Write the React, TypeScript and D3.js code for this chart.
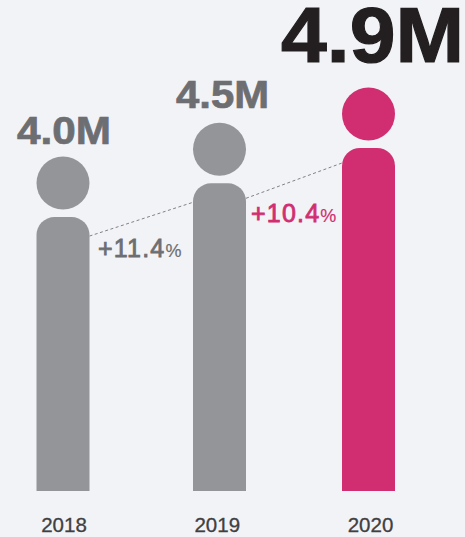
import React, { useEffect, useRef } from "react";
import * as d3 from "d3";

const years = ["2018", "2019", "2020"];
const values = [4.0, 4.44, 4.9];
const valueLabels = ["4.0M", "4.5M", "4.9M"];
const growthLabels = ["+11.4", "+10.4"];

const width = 465;
const height = 537;
const FONT = "'Liberation Sans', Arial, sans-serif";

const App: React.FC = () => {
  const svgRef = useRef<SVGSVGElement | null>(null);

  useEffect(() => {
    if (!svgRef.current) return;
    const svg = d3.select(svgRef.current);
    svg.selectAll("*").remove();

    svg.append("rect").attr("width", width).attr("height", height).attr("fill", "#f2f3f6");

    // the source spacing is a bit uneven so a band scale does not fit
    const x = d3.scaleOrdinal<string, number>().domain(years).range([63, 219.5, 368.5]);
    const xLabel = d3.scalePoint<string>().domain(years).range([64, 370.5]);
    const y = d3.scaleLinear().domain([0.43, 4.9]).range([491, 148]);

    const barW = 53;
    const r = 18;
    const color = (i: number) => (i === 2 ? "#d12e72" : "#939598");

    // dotted connectors, one per step between bars
    const connector = d3.line<[number, number]>();
    const drops = [19, 15];
    drops.forEach((drop, i) => {
      const a = years[i];
      const b = years[i + 1];
      svg
        .append("path")
        .attr(
          "d",
          connector([
            [x(a) + barW / 2, y(values[i]) + drop],
            [x(b) - barW / 2, y(values[i + 1]) + drop],
          ]) || ""
        )
        .attr("fill", "none")
        .attr("stroke", "#808285")
        .attr("stroke-width", 1)
        .attr("stroke-dasharray", "3 2.5");
    });

    years.forEach((year, i) => {
      const cx = x(year);
      const top = y(values[i]);
      const p = d3.path();
      p.moveTo(cx - barW / 2, y.range()[0]);
      p.lineTo(cx - barW / 2, top + r);
      p.arcTo(cx - barW / 2, top, cx - barW / 2 + r, top, r);
      p.lineTo(cx + barW / 2 - r, top);
      p.arcTo(cx + barW / 2, top, cx + barW / 2, top + r, r);
      p.lineTo(cx + barW / 2, y.range()[0]);
      p.closePath();
      svg.append("path").attr("d", p.toString()).attr("fill", color(i));

      svg
        .append("circle")
        .attr("cx", cx)
        .attr("cy", top - 34)
        .attr("r", barW / 2)
        .attr("fill", color(i));

      svg
        .append("text")
        .attr("x", xLabel(year) as number)
        .attr("y", 532)
        .attr("text-anchor", "middle")
        .attr("font-family", FONT)
        .attr("font-size", 20.5)
        .attr("fill", "#404041")
        .attr("stroke", "#404041")
        .attr("stroke-width", 0.3)
        .text(year);
    });

    // big value labels
    const labelPos = [
      { x: 17, y: 144, size: 38, len: 94, fill: "#6d6e71" },
      { x: 176, y: 108, size: 38, len: 93, fill: "#6d6e71" },
      { x: 281, y: 62, size: 77, len: 183, fill: "#231f20" },
    ];
    valueLabels.forEach((label, i) => {
      const l = labelPos[i];
      svg
        .append("text")
        .attr("x", l.x)
        .attr("y", l.y)
        .attr("font-family", FONT)
        .attr("font-weight", 700)
        .attr("font-size", l.size)
        .attr("textLength", l.len)
        .attr("lengthAdjust", "spacingAndGlyphs")
        .attr("fill", l.fill)
        .attr("stroke", l.fill)
        .attr("stroke-width", i === 2 ? 1.2 : 0.7)
        .text(label);
    });

    const growthPos = [
      { x: 98, y: 257, fill: "#6d6e71" },
      { x: 251, y: 222, fill: "#d12e72" },
    ];
    growthLabels.forEach((label, i) => {
      const g = growthPos[i];
      const t = svg
        .append("text")
        .attr("x", g.x)
        .attr("y", g.y)
        .attr("font-family", FONT)
        .attr("fill", g.fill)
        .attr("stroke", g.fill);
      t.append("tspan")
        .attr("font-size", 25)
        .attr("stroke-width", 0.8)
        .attr("letter-spacing", 1.2)
        .text(label);
      t.append("tspan").attr("font-size", 18).attr("stroke-width", 0.2).text("%");
    });
  }, []);

  return (
    <svg
      ref={svgRef}
      width={width}
      height={height}
      style={{ position: "absolute", left: 0, top: 0, display: "block" }}
    ></svg>
  );
};

export default App;
